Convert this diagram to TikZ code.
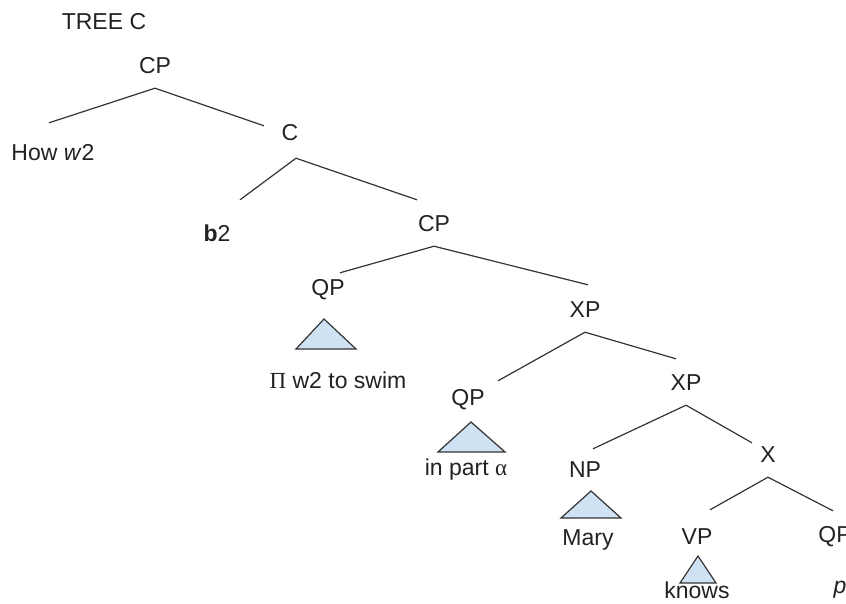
\documentclass[tikz,border=0pt]{standalone}
\usepackage{fontspec}
\setmainfont{Liberation Sans}
\newfontfamily\greekfont{Liberation Serif}

\definecolor{ink}{HTML}{222222}
\definecolor{edge}{HTML}{333333}
\definecolor{roofblue}{HTML}{CFE2F3}

\tikzset{
  lbl/.style={inner sep=0pt, minimum height=44pt, text=ink, font=\fontsize{23}{27}\selectfont},
  branch/.style={draw=edge, line width=1.2pt},
  roof/.style={draw=edge, fill=roofblue, line width=1.2pt, line join=miter}
}

\begin{document}
\begin{tikzpicture}[x=1pt, y=-1pt]
        \useasboundingbox (0,0) rectangle (846,603);
        \node[lbl] (title) at (104,22) {TREE C};
        % labels of the tree
        \node[lbl] (cp1) at (155,66) {CP};
        \node[lbl] (how) at (53,153) {How \textit{w}2};
        \node[lbl] (c1) at (290,133) {C};
        \node[lbl] (b2) at (217,233) {\textbf{b}2};
        \node[lbl] (cp2) at (434,224) {CP};
        \node[lbl] (qp1) at (328,290) {QP};
        \node[lbl] (swim) at (338,380) {{\greekfont Π} w2 to swim};
        \node[lbl] (xp1) at (585,310) {XP};
        \node[lbl] (qp2) at (468,400) {QP};
        \node[lbl] (inpart) at (466,470) {in part {\greekfont α}};
        \node[lbl] (xp2) at (686,383) {XP};
        \node[lbl] (np) at (585,470) {NP};
        \node[lbl] (mary) at (588,540) {Mary};
        \node[lbl] (x1) at (768,455) {X};
        \node[lbl] (vp) at (697,537) {VP};
        \node[lbl] (knows) at (697,590) {knows};
        \node[lbl] (qp3) at (835,537) {QP};
        \node[lbl] (p) at (840,590) {\textit{p}};
        % branches
        \draw[branch] (cp1.south) -- ([shift={(-4,-8)}]how.north);
        \draw[branch] (cp1.south) -- ([shift={(-26,15)}]c1.north);
        \draw[branch] ([shift={(6,3)}]c1.south) -- ([shift={(23,-11)}]b2.north);
        \draw[branch] ([shift={(6,3)}]c1.south) -- ([shift={(-17,-2)}]cp2.north);
        \draw[branch] (cp2.south) -- ([shift={(12,5)}]qp1.north);
        \draw[branch] (cp2.south) -- ([shift={(3,-3)}]xp1.north);
        \draw[branch] (xp1.south) -- ([shift={(30,3)}]qp2.north);
        \draw[branch] (xp1.south) -- ([shift={(-10,-2)}]xp2.north);
        \draw[branch] (xp2.south) -- ([shift={(8,1)}]np.north);
        \draw[branch] (xp2.south) -- ([shift={(-16,10)}]x1.north);
        \draw[branch] (x1.south) -- ([shift={(13,-5)}]vp.north);
        \draw[branch] (x1.south) -- ([shift={(-2,-4)}]qp3.north);
        % roofs
        \filldraw[roof] ([shift={(-4,29)}]qp1.center) -- ++(-28,30) -- ++(60,0) -- cycle;
        \filldraw[roof] ([shift={(3,22)}]qp2.center) -- ++(-33,30) -- ++(67,0) -- cycle;
        \filldraw[roof] ([shift={(6,21)}]np.center) -- ++(-30,27) -- ++(60,0) -- cycle;
        \filldraw[roof] ([shift={(1,19)}]vp.center) -- ++(-18,27) -- ++(36,0) -- cycle;
      \end{tikzpicture}
\end{document}
